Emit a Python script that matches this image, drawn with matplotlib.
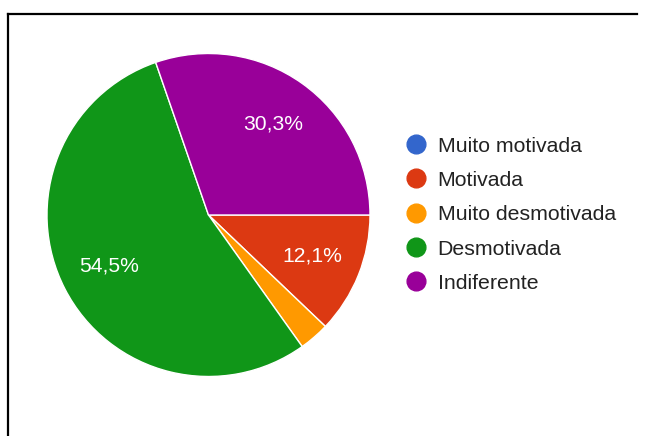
import matplotlib
matplotlib.use("Agg")
import matplotlib.pyplot as plt
from matplotlib.lines import Line2D

categories = ["Muito motivada", "Motivada", "Muito desmotivada", "Desmotivada", "Indiferente"]
counts = [0, 4, 1, 18, 10]
colors = ["#3366cc", "#dc3912", "#ff9900", "#109618", "#990099"]

W, H = 647, 436
plt.rcParams['font.family'] = ['Liberation Sans', 'DejaVu Sans']
fig = plt.figure(figsize=(W / 100, H / 100), dpi=100)

cx, cy, r = 208.5, 215, 161.5
ax = fig.add_axes([(cx - r) / W, (H - cy - r) / H, 2 * r / W, 2 * r / H])

def fmt(p):
    return (f"{p:.1f}%".replace(".", ",")) if p >= 5 else ""

wedges, texts, autotexts = ax.pie(
    counts, colors=colors, startangle=0, counterclock=False,
    autopct=fmt, pctdistance=0.69,
    wedgeprops=dict(edgecolor="white", linewidth=1.0),
    textprops=dict(color="white", fontsize=15.2),
)
ax.set_xlim(-1, 1)
ax.set_ylim(-1, 1)
ax.set_aspect("equal")

handles = [Line2D([0], [0], marker="o", linestyle="", markersize=13.5,
                  markerfacecolor=c, markeredgecolor=c) for c in colors]
leg = fig.legend(handles, categories, loc="upper left",
                 bbox_to_anchor=(395 / W, 1 - 126 / H),
                 frameon=False, fontsize=15.3, handlelength=1.0,
                 handletextpad=0.5, labelspacing=0.72, borderpad=0,
                 labelcolor="#222222")

fig.add_artist(Line2D([8 / W, 637 / W], [1 - 14 / H, 1 - 14 / H],
                      transform=fig.transFigure, color="black", linewidth=1.6))
fig.add_artist(Line2D([8 / W, 8 / W], [1 - 14 / H, 0],
                      transform=fig.transFigure, color="black", linewidth=1.6))

fig.savefig("out.png", dpi=100)
